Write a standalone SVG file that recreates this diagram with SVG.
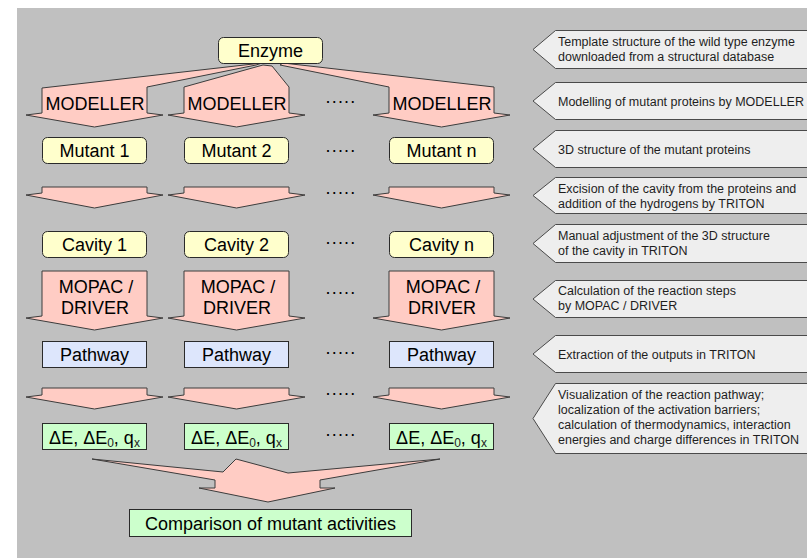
<svg xmlns="http://www.w3.org/2000/svg" width="807" height="558" viewBox="0 0 807 558">
  <style>
    .t { font-family: "Liberation Sans", Arial, sans-serif; font-size: 18px; fill: #000; text-anchor: middle; }
    .sub { font-size: 12px; fill: #222; }
    .dots { font-family: "Liberation Sans", Arial, sans-serif; font-size: 18px; fill: #000; text-anchor: middle; letter-spacing: 1.2px; }
    .c { font-family: "Liberation Sans", Arial, sans-serif; font-size: 12.5px; fill: #1e1e1e; }
    .arrow { fill: #ffccc4; stroke: #3c3c3c; stroke-width: 1; stroke-linejoin: miter; }
    .ny { fill: #ffffcc; stroke: #2a2a2a; stroke-width: 1; }
    .nb { fill: #dde6fc; stroke: #2a2a2a; stroke-width: 1; }
    .ng { fill: #ccffcc; stroke: #2a2a2a; stroke-width: 1; }
    .callout { fill: #eeeeee; stroke: #4a4a4a; stroke-width: 1; }
  </style>

  <!-- page and panel background -->
  <rect x="0" y="0" width="807" height="558" fill="#ffffff"/>
  <rect x="17" y="8" width="790" height="550" fill="#c0c0c0"/>

  <!-- block arrows between the stages -->
  <g id="connectors">
    <!-- Enzyme fanned out to the MODELLER runs -->
    <polygon class="arrow" points="262,63 42,88 42,113 26,115 94.5,127 163,115 147,113 147,87 256,65"/>
    <polygon class="arrow" points="263,65 184,87 184,113 168,115 236.5,127 305,115 289,113 289,87 272,66"/>
    <polygon class="arrow" points="280,65 389,87 389,113 373,115 441.5,127 510,115 494,113 494,87 283,63"/>
    <text class="t" x="95" y="110">MODELLER</text>
    <text class="t" x="237" y="110">MODELLER</text>
    <text class="t" x="442" y="110">MODELLER</text>

    <!-- mutant to cavity -->
    <polygon class="arrow" points="42,187 147,187 147,193 163,195 94.5,208 26,195 42,193"/>
    <polygon class="arrow" points="184,187 289,187 289,193 305,195 236.5,208 168,195 184,193"/>
    <polygon class="arrow" points="389,187 494,187 494,193 510,195 441.5,208 373,195 389,193"/>

    <!-- cavity to pathway via MOPAC / DRIVER -->
    <polygon class="arrow" points="42,271 147,271 147,316 163,318 94.5,330 26,318 42,316"/>
    <polygon class="arrow" points="184,271 289,271 289,316 305,318 236.5,330 168,318 184,316"/>
    <polygon class="arrow" points="389,271 494,271 494,316 510,318 441.5,330 373,318 389,316"/>
    <text class="t" x="96" y="293">MOPAC /</text>
    <text class="t" x="95" y="314">DRIVER</text>
    <text class="t" x="238" y="293">MOPAC /</text>
    <text class="t" x="237" y="314">DRIVER</text>
    <text class="t" x="443" y="293">MOPAC /</text>
    <text class="t" x="442" y="314">DRIVER</text>

    <!-- pathway to energies -->
    <polygon class="arrow" points="42,388 147,388 147,395 163,397 94.5,409 26,397 42,395"/>
    <polygon class="arrow" points="184,388 289,388 289,395 305,397 236.5,409 168,397 184,395"/>
    <polygon class="arrow" points="389,388 494,388 494,395 510,397 441.5,409 373,397 389,395"/>

    <!-- all columns merged into the comparison -->
    <polygon class="arrow" points="92,459 223,472 236,459 288,473 440,459 320,480 320,488 335,488 268,502 199,488 215,488 215,480"/>
  </g>

  <!-- ellipsis marks for the further mutants -->
  <g id="ellipsis">
    <text class="dots" x="341" y="103">.....</text>
    <text class="dots" x="341" y="152">.....</text>
    <text class="dots" x="341" y="194">.....</text>
    <text class="dots" x="341" y="244">.....</text>
    <text class="dots" x="341" y="294">.....</text>
    <text class="dots" x="341" y="354">.....</text>
    <text class="dots" x="341" y="395">.....</text>
    <text class="dots" x="341" y="436">.....</text>
  </g>

  <g id="enzyme">
    <rect class="ny" x="218.5" y="37.5" width="104" height="26" rx="5"/>
    <text class="t" x="270.5" y="57">Enzyme</text>
  </g>

  <g id="mutant-1">
    <rect class="ny" x="42.5" y="137.5" width="104" height="26" rx="5"/>
    <text class="t" x="94.5" y="157">Mutant 1</text>
  </g>
  <g id="mutant-2">
    <rect class="ny" x="184.5" y="137.5" width="104" height="26" rx="5"/>
    <text class="t" x="236.5" y="157">Mutant 2</text>
  </g>
  <g id="mutant-n">
    <rect class="ny" x="389.5" y="137.5" width="104" height="26" rx="5"/>
    <text class="t" x="441.5" y="157">Mutant n</text>
  </g>

  <g id="cavity-1">
    <rect class="ny" x="42.5" y="231.5" width="104" height="26" rx="5"/>
    <text class="t" x="94.5" y="250.5">Cavity 1</text>
  </g>
  <g id="cavity-2">
    <rect class="ny" x="184.5" y="231.5" width="104" height="26" rx="5"/>
    <text class="t" x="236.5" y="250.5">Cavity 2</text>
  </g>
  <g id="cavity-n">
    <rect class="ny" x="389.5" y="231.5" width="104" height="26" rx="5"/>
    <text class="t" x="441.5" y="250.5">Cavity n</text>
  </g>

  <g id="pathway-1">
    <rect class="nb" x="42.5" y="341.5" width="104" height="26"/>
    <text class="t" x="94.5" y="360.5">Pathway</text>
  </g>
  <g id="pathway-2">
    <rect class="nb" x="184.5" y="341.5" width="104" height="26"/>
    <text class="t" x="236.5" y="360.5">Pathway</text>
  </g>
  <g id="pathway-n">
    <rect class="nb" x="389.5" y="341.5" width="104" height="26"/>
    <text class="t" x="441.5" y="360.5">Pathway</text>
  </g>

  <g id="energies-1">
    <rect class="ng" x="42.5" y="423.5" width="104" height="26"/>
    <text class="t" x="94.5" y="444">ΔE, ΔE<tspan class="sub" dy="3">0</tspan><tspan dy="-3">, q</tspan><tspan class="sub" dy="3">x</tspan></text>
  </g>
  <g id="energies-2">
    <rect class="ng" x="184.5" y="423.5" width="104" height="26"/>
    <text class="t" x="236.5" y="444">ΔE, ΔE<tspan class="sub" dy="3">0</tspan><tspan dy="-3">, q</tspan><tspan class="sub" dy="3">x</tspan></text>
  </g>
  <g id="energies-n">
    <rect class="ng" x="389.5" y="423.5" width="104" height="26"/>
    <text class="t" x="441.5" y="444">ΔE, ΔE<tspan class="sub" dy="3">0</tspan><tspan dy="-3">, q</tspan><tspan class="sub" dy="3">x</tspan></text>
  </g>

  <g id="comparison">
    <rect class="ng" x="129.5" y="509.5" width="282" height="27"/>
    <text class="t" x="270.5" y="529.5">Comparison of mutant activities</text>
  </g>

  <!-- step descriptions on the right -->
  <g id="note-template">
    <polygon class="callout" points="555.5,30.5 810,30.5 810,68.5 555.5,68.5 533,49.5"/>
    <text class="c" x="558" y="46">Template structure of the wild type enzyme</text>
    <text class="c" x="558" y="61">downloaded from a structural database</text>
  </g>
  <g id="note-modelling">
    <polygon class="callout" points="555.5,82.5 810,82.5 810,119.5 555.5,119.5 533,101"/>
    <text class="c" x="558" y="105.5">Modelling of mutant proteins by MODELLER</text>
  </g>
  <g id="note-structure">
    <polygon class="callout" points="555.5,130.5 810,130.5 810,167.5 555.5,167.5 533,149"/>
    <text class="c" x="558" y="153.5">3D structure of the mutant proteins</text>
  </g>
  <g id="note-excision">
    <polygon class="callout" points="555.5,177.5 810,177.5 810,213.5 555.5,213.5 533,195.5"/>
    <text class="c" x="558" y="192.5">Excision of the cavity from the proteins and</text>
    <text class="c" x="558" y="207.5">addition of the hydrogens by TRITON</text>
  </g>
  <g id="note-adjustment">
    <polygon class="callout" points="555.5,224.5 810,224.5 810,262.5 555.5,262.5 533,243.5"/>
    <text class="c" x="558" y="240">Manual adjustment of the 3D structure</text>
    <text class="c" x="558" y="255">of the cavity in TRITON</text>
  </g>
  <g id="note-calculation">
    <polygon class="callout" points="555.5,280.5 810,280.5 810,317.5 555.5,317.5 533,299"/>
    <text class="c" x="558" y="295">Calculation of the reaction steps</text>
    <text class="c" x="558" y="310">by MOPAC / DRIVER</text>
  </g>
  <g id="note-extraction">
    <polygon class="callout" points="555.5,335.5 810,335.5 810,372.5 555.5,372.5 533,354"/>
    <text class="c" x="558" y="358.5">Extraction of the outputs in TRITON</text>
  </g>
  <g id="note-visualization">
    <polygon class="callout" points="555.5,383.5 810,383.5 810,453.5 555.5,453.5 533,418.5"/>
    <text class="c" x="558" y="399">Visualization of the reaction pathway;</text>
    <text class="c" x="558" y="414">localization of the activation barriers;</text>
    <text class="c" x="558" y="429">calculation of thermodynamics, interaction</text>
    <text class="c" x="558" y="444">energies and charge differences in TRITON</text>
  </g>
</svg>
